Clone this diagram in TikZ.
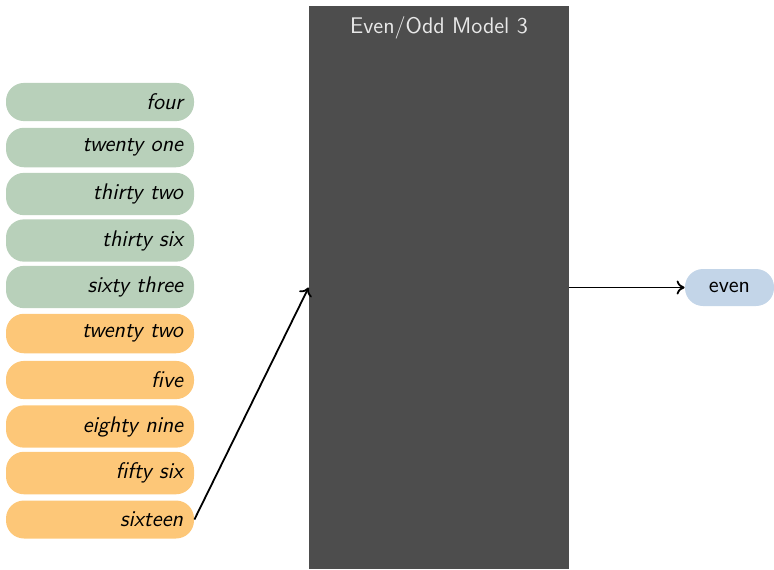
\documentclass[tikz,border=0pt]{standalone}
\usepackage{amsmath}
\usepackage{tikz}
\usetikzlibrary{calc}
\usetikzlibrary{arrows.meta}

\definecolor{evengreen}{HTML}{B8D0BA}
\definecolor{oddorange}{HTML}{FDC778}
\definecolor{outblue}{HTML}{C3D5E8}
\definecolor{modelgray}{HTML}{4D4D4D}
\definecolor{titlegray}{HTML}{E8E8E8}

\begin{document}
\begin{tikzpicture}[x=0.5pt,y=-0.5pt,font=\sffamily\fontsize{11.3}{13}\selectfont]
    \tikzset{pill/.style={rounded corners=9pt, text width=83pt, align=right, inner sep=5.5pt, minimum height=19pt, font=\sffamily\itshape\fontsize{11.3}{13}\selectfont},
             evenpill/.style={pill, fill=evengreen},
             oddpill/.style={pill, fill=oddorange},
             feed/.style={-{To[length=4pt,width=7pt]}, line width=0.9pt}}
    
    \useasboundingbox (0,0) rectangle (774,569);
    
    %Model
    \node[fill=modelgray, minimum width=130pt, minimum height=281.5pt, inner sep=0pt] (model) at (439,287.5){};
    \node[text=titlegray, below=2pt] (modeltitle) at (model.north) {Even/Odd Model 3};
    
    %Inputs
    \node[evenpill] (four) at (100,102) {four};
    \node[evenpill] (twentyone) at (100,147.5) {twenty one};
    \node[evenpill] (thirtytwo) at (100,194) {thirty two};
    \node[evenpill] (thirtysix) at (100,240.5) {thirty six};
    \node[evenpill] (sixtythree) at (100,287) {sixty three};
    \node[oddpill] (twentytwo) at (100,333.5) {twenty two};
    \node[oddpill] (five) at (100,380) {five};
    \node[oddpill] (eightynine) at (100,426.5) {eighty nine};
    \node[oddpill] (fiftysix) at (100,473) {fifty six};
    \node[oddpill] (sixteen) at (100,519.5) {sixteen};
    
    %Output
    \node[fill=outblue, rounded corners=9pt, minimum width=44.5pt, minimum height=18.5pt, inner sep=0pt] (even) at (729.5,287.5) {even};
    
    \draw [feed] (sixteen.east) -- (model.west);
    \draw [feed] (model.east) -- (even.west);
\end{tikzpicture}
\end{document}
